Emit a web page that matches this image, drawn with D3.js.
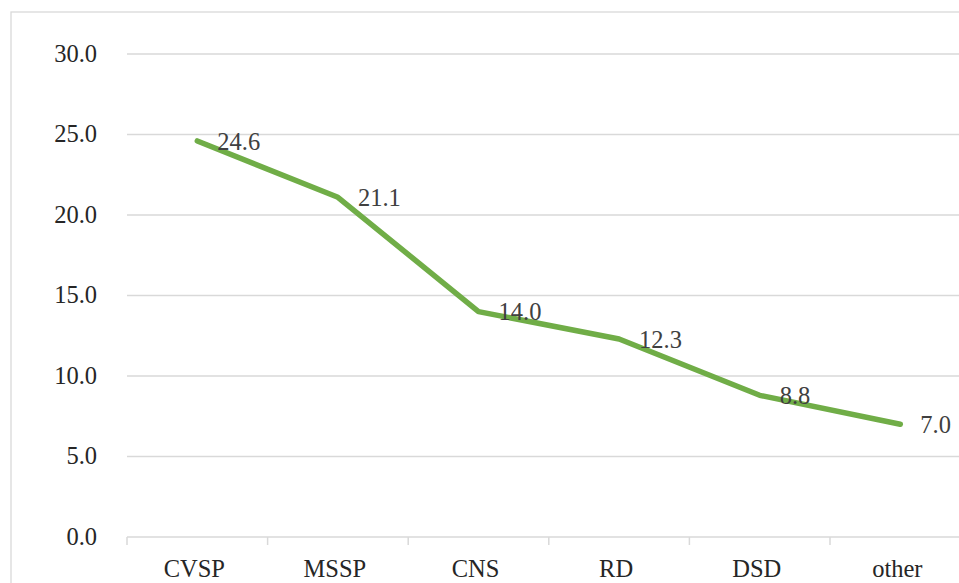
<!DOCTYPE html>
<html>
<head>
<meta charset="utf-8">
<script src="https://cdn.jsdelivr.net/npm/d3@7"></script>
<style>
  html, body { margin: 0; padding: 0; background: #fff; overflow: hidden; }
</style>
</head>
<body>
<div id="chart-area"></div>
<script>
const categories = ["CVSP", "MSSP", "CNS", "RD", "DSD", "other"];
const values = [24.6, 21.1, 14.0, 12.3, 8.8, 7.0];
const yTicks = [0, 5, 10, 15, 20, 25, 30];

const FONT = "'Liberation Serif', 'Times New Roman', serif";
const AXIS_COLOR = "#262626";
const LABEL_COLOR = "#404040";

// chart is wider than the window, the right edge is cut off like in the picture
const width = 1000, height = 600;
const margin = {top: 54, left: 127};
const plotW = 843.6, plotH = 483;

const svg = d3.select("#chart-area")
    .append("svg")
    .attr("width", width)
    .attr("height", height)
    .style("display", "block");

// outer chart border
svg.append("rect")
    .attr("x", 11)
    .attr("y", 12)
    .attr("width", 975)
    .attr("height", 620)
    .attr("fill", "none")
    .attr("stroke", "#d9d9d9")
    .attr("stroke-width", 1.3);

const g = svg.append("g")
    .attr("transform", `translate(${margin.left}, ${margin.top})`);

const x = d3.scaleBand()
    .domain(categories)
    .range([0, plotW]);

const y = d3.scaleLinear()
    .domain([0, 30])
    .range([plotH, 0]);

// gridlines
g.selectAll(".grid")
    .data(yTicks)
    .enter()
    .append("line")
    .attr("class", "grid")
    .attr("x1", 0)
    .attr("x2", plotW)
    .attr("y1", d => y(d))
    .attr("y2", d => y(d))
    .attr("stroke", "#d9d9d9")
    .attr("stroke-width", 1.5);

// y labels
g.selectAll(".ylab")
    .data(yTicks)
    .enter()
    .append("text")
    .attr("class", "ylab")
    .attr("x", -30)
    .attr("y", d => y(d))
    .attr("dy", "0.32em")
    .attr("text-anchor", "end")
    .attr("font-family", FONT)
    .attr("font-size", 24.5)
    .attr("fill", AXIS_COLOR)
    .text(d => d3.format(".1f")(d));

// x ticks at band edges
const edges = categories.map(c => x(c)).concat([plotW]);
g.selectAll(".xtick")
    .data(edges)
    .enter()
    .append("line")
    .attr("class", "xtick")
    .attr("x1", d => d)
    .attr("x2", d => d)
    .attr("y1", plotH)
    .attr("y2", plotH + 8)
    .attr("stroke", "#d9d9d9")
    .attr("stroke-width", 1.5);

// x labels
g.selectAll(".xlab")
    .data(categories)
    .enter()
    .append("text")
    .attr("class", "xlab")
    .attr("x", d => x(d) + x.bandwidth() / 2 - 3)
    .attr("y", plotH + 40)
    .attr("text-anchor", "middle")
    .attr("font-family", FONT)
    .attr("font-size", 24.5)
    .attr("fill", AXIS_COLOR)
    .text(d => d);

const pts = categories.map((c, i) => ({key: c, value: values[i]}));

const line = d3.line()
    .x(d => x(d.key) + x.bandwidth() / 2)
    .y(d => y(d.value));

g.append("path")
    .datum(pts)
    .attr("d", line)
    .attr("fill", "none")
    .attr("stroke", "#70ad47")
    .attr("stroke-width", 5.5)
    .attr("stroke-linejoin", "round")
    .attr("stroke-linecap", "round");

// data labels, right of each point
g.selectAll(".dlab")
    .data(pts)
    .enter()
    .append("text")
    .attr("class", "dlab")
    .attr("x", d => x(d.key) + x.bandwidth() / 2 + 20)
    .attr("y", d => y(d.value))
    .attr("dy", "0.35em")
    .attr("font-family", FONT)
    .attr("font-size", 24.5)
    .attr("fill", LABEL_COLOR)
    .text(d => d3.format(".1f")(d.value));
</script>
</body>
</html>
